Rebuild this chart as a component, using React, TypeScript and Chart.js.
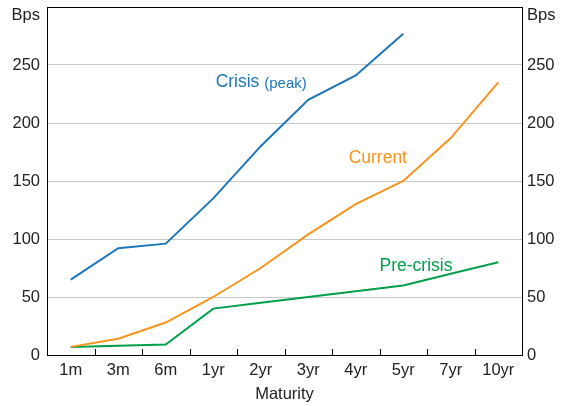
import React, { useEffect, useRef } from "react";
import { Chart, registerables } from "chart.js";

Chart.register(...registerables);

const categories = ["1m", "3m", "6m", "1yr", "2yr", "3yr", "4yr", "5yr", "7yr", "10yr"];
const crisisPeak = [65, 92, 96, 135, 180, 220, 241, 277, null, null];
const current = [7, 14, 28, 50, 75, 104, 130, 150, 187, 235];
const preCrisis = [7, 8, 9, 40, 45, 50, 55, 60, 70, 80];
const yTicks = [0, 50, 100, 150, 200, 250];

const BLUE = "#1b75bb";
const ORANGE = "#f7941d";
const GREEN = "#00a04b";
const FONT = "'Liberation Sans', Arial, sans-serif";
const TS = 16.5;

const decorPlugin = {
  id: "decor",
  afterDraw(chart: any) {
    const { ctx, chartArea } = chart;
    const x = chart.scales.x;
    const y = chart.scales.y;
    ctx.save();
    ctx.strokeStyle = "#000";
    ctx.lineWidth = 1;
    ctx.strokeRect(Math.round(chartArea.left) + 0.5, Math.round(chartArea.top) + 0.5,
      Math.round(chartArea.right - chartArea.left), Math.round(chartArea.bottom - chartArea.top));
    ctx.beginPath();
    for (let i = 1; i < categories.length; i++) {
      const px = Math.round((x.getPixelForTick(i - 1) + x.getPixelForTick(i)) / 2) + 0.5;
      ctx.moveTo(px, chartArea.bottom);
      ctx.lineTo(px, chartArea.bottom - 6);
    }
    ctx.stroke();
    ctx.fillStyle = "#222";
    ctx.font = `${TS}px ${FONT}`;
    ctx.textBaseline = "middle";
    ctx.textAlign = "right";
    ctx.fillText("Bps", chartArea.left - 7, 15);
    ctx.textAlign = "left";
    ctx.fillText("Bps", chartArea.right + 5, 15);
    const lbl = (text: string, xi: number, yv: number, color: string, size: number) => {
      ctx.fillStyle = color;
      ctx.font = `${size}px ${FONT}`;
      ctx.textAlign = "left";
      ctx.fillText(text, x.getPixelForValue(xi), y.getPixelForValue(yv));
    };
    ctx.fillStyle = BLUE;
    ctx.font = `17.5px ${FONT}`;
    ctx.textAlign = "left";
    const cx = x.getPixelForValue(3.05);
    const cy = y.getPixelForValue(235);
    ctx.fillText("Crisis", cx, cy);
    const w = ctx.measureText("Crisis ").width;
    ctx.font = `15px ${FONT}`;
    ctx.fillText("(peak)", cx + w, cy + 1);
    lbl("Current", 5.85, 170, ORANGE, 17.5);
    lbl("Pre-crisis", 6.5, 77, GREEN, 17.5);
    ctx.restore();
  },
};

export default function App() {
  const ref = useRef<HTMLCanvasElement>(null);
  useEffect(() => {
    document.body.style.margin = "0";
    const chart = new Chart(ref.current!, {
      type: "line",
      data: {
        labels: categories,
        datasets: [
          { label: "Crisis (peak)", data: crisisPeak, borderColor: BLUE, borderWidth: 2, pointRadius: 0, tension: 0, yAxisID: "y" },
          { label: "Current", data: current, borderColor: ORANGE, borderWidth: 2, pointRadius: 0, tension: 0, yAxisID: "y" },
          { label: "Pre-crisis", data: preCrisis, borderColor: GREEN, borderWidth: 2, pointRadius: 0, tension: 0, yAxisID: "y" },
        ],
      },
      options: {
        animation: false,
        responsive: false,
        maintainAspectRatio: false,
        layout: { padding: { top: 7, left: 0, right: 0, bottom: 0 } },
        plugins: { legend: { display: false }, tooltip: { enabled: false } },
        scales: {
          x: {
            type: "category",
            offset: true,
            grid: { display: false, drawTicks: false },
            border: { display: false },
            ticks: { color: "#222", font: { size: TS, family: FONT }, padding: 6, maxRotation: 0, autoSkip: false },
            title: { display: true, text: "Maturity", color: "#222", font: { size: TS, family: FONT }, padding: { top: 0, bottom: 2 } },
            afterFit: (s: any) => { s.height = 51; s.paddingLeft = 0; s.paddingRight = 0; },
          },
          y: {
            position: "left",
            min: 0,
            max: 300,
            afterBuildTicks: (s: any) => { s.ticks = yTicks.map((v) => ({ value: v })); },
            grid: {
              drawTicks: false,
              color: (c: any) => (c.tick && c.tick.value > 0 ? "#c8c8c8" : "rgba(0,0,0,0)"),
              lineWidth: 1,
            },
            border: { display: false },
            ticks: { color: "#222", font: { size: TS, family: FONT }, padding: 7 },
            afterFit: (s: any) => { s.width = 47; s.paddingTop = 0; s.paddingBottom = 0; },
          },
          y2: {
            position: "right",
            min: 0,
            max: 300,
            afterBuildTicks: (s: any) => { s.ticks = yTicks.map((v) => ({ value: v })); },
            grid: { display: false, drawTicks: false },
            border: { display: false },
            ticks: { color: "#222", font: { size: TS, family: FONT }, padding: 5 },
            afterFit: (s: any) => { s.width = 47; s.paddingTop = 0; s.paddingBottom = 0; },
          },
        },
      },
      plugins: [decorPlugin],
    } as any);
    return () => chart.destroy();
  }, []);
  return (
    <div style={{ width: 569, height: 406 }}>
      <canvas ref={ref} width={569} height={406} style={{ display: "block" }} />
    </div>
  );
}
